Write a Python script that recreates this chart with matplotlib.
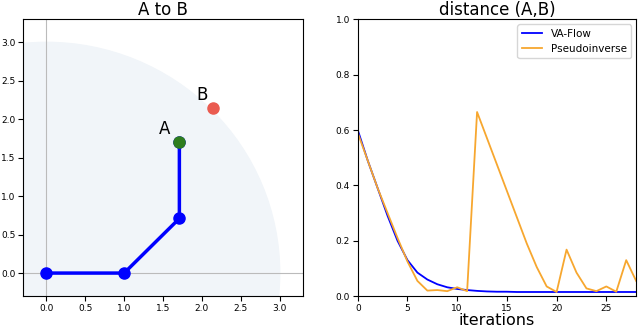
import matplotlib.pyplot as plt
import matplotlib.patches as mpatches

# path from origin to A
path_x = [0.0, 1.0, 1.71, 1.71]
path_y = [0.0, 0.0, 0.71, 1.71]
point_a = (1.71, 1.71)
point_b = (2.14, 2.14)
radius = 3.0

# distance per iteration
iters = list(range(29))
va_flow = [0.60, 0.49, 0.39, 0.29, 0.20, 0.13, 0.085, 0.060, 0.043, 0.032,
           0.026, 0.022, 0.019, 0.017, 0.016, 0.016, 0.015, 0.015, 0.015, 0.015,
           0.015, 0.015, 0.015, 0.015, 0.015, 0.015, 0.015, 0.015, 0.015]
pseudo = [0.59, 0.49, 0.39, 0.30, 0.21, 0.125, 0.055, 0.020, 0.022, 0.018,
          0.032, 0.018, 0.665, 0.57, 0.475, 0.38, 0.285, 0.19, 0.105, 0.035,
          0.015, 0.168, 0.085, 0.028, 0.018, 0.035, 0.016, 0.13, 0.055]

fig = plt.figure(figsize=(6.4, 3.32), dpi=100)

#left panel
ax1 = fig.add_axes([0.036, 0.108, 0.4375, 0.834])
ax1.add_patch(mpatches.Circle((0, 0), radius, color="#f1f5f9", zorder=0))
ax1.axhline(0, color="#bbbbbb", lw=0.8, zorder=1)
ax1.axvline(0, color="#bbbbbb", lw=0.8, zorder=1)
ax1.plot(path_x, path_y, color="blue", lw=2.5, marker="o", markersize=8, zorder=2)
ax1.plot(*point_a, "o", color="#2e7d1e", markersize=8, zorder=3)
ax1.plot(*point_b, "o", color="#ea5b50", markersize=8, zorder=3)
ax1.text(1.52, 1.87, "A", fontsize=12, ha="center", va="center")
ax1.text(2.0, 2.32, "B", fontsize=12, ha="center", va="center")
ax1.set_xlim(-0.3, 3.3)
ax1.set_ylim(-0.3, 3.3)
ax1.set_xticks([0, 0.5, 1, 1.5, 2, 2.5, 3])
ax1.set_yticks([0, 0.5, 1, 1.5, 2, 2.5, 3])
ax1.tick_params(labelsize=6.5, pad=2)
ax1.set_title("A to B", fontsize=12, pad=3)

#right panel
ax2 = fig.add_axes([0.559, 0.108, 0.435, 0.834])
ax2.plot(iters, va_flow, color="blue", lw=1.3, label="VA-Flow")
ax2.plot(iters, pseudo, color="#f7a72f", lw=1.3, label="Pseudoinverse")
ax2.set_xlim(0, 28)
ax2.set_ylim(0, 1)
ax2.set_xticks([0, 5, 10, 15, 20, 25])
ax2.tick_params(labelsize=6.5, pad=2)
ax2.set_title("distance (A,B)", fontsize=12, pad=3)
ax2.set_xlabel("iterations", fontsize=11.5, labelpad=0)
ax2.legend(loc="upper right", fontsize=7.5)

plt.savefig("out.png", dpi=100)
